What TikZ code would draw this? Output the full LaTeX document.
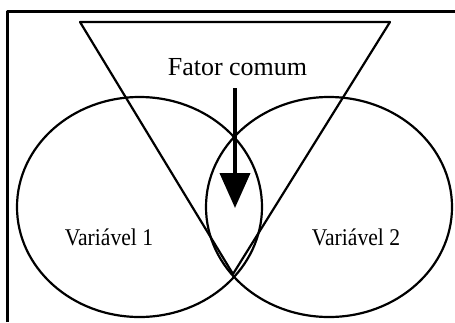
\documentclass[tikz,border=0pt]{standalone}
\usepackage{fontspec}
\setmainfont{Liberation Serif}
\newfontfamily\narrowserif[FakeStretch=0.9]{Liberation Serif}
\usetikzlibrary{arrows.meta}

\tikzset{
  outline/.style={line width=2.2pt},
  label/.style={inner sep=0pt, anchor=base}
}

\begin{document}
\begin{tikzpicture}[x=1pt, y=-1pt, line join=round]

  \useasboundingbox (0,0) rectangle (455,322);

  % ============================================================
  % FRAME
  % ============================================================
  \draw[line width=3pt] (7.5,322) -- (7.5,11) -- (455,11);

  % ============================================================
  % SHAPES: common factor triangle and the two variables
  % ============================================================
  \draw[outline] (80,22) -- (390,22) -- (233,274) -- cycle;

  \draw[outline] (139.5,207) ellipse [x radius=122.5pt, y radius=110pt];
  \draw[outline] (329,207) ellipse [x radius=123pt, y radius=110pt];

  % ============================================================
  % LABELS
  % ============================================================
  \node[label, font=\fontsize{26}{30}\selectfont] (fator) at (237.5,75)
    {Fator comum};

  \node[label, font=\narrowserif\fontsize{24}{28}\selectfont] (var1) at (109,245)
    {Variável 1};
  \node[label, font=\narrowserif\fontsize{24}{28}\selectfont] (var2) at (356,245)
    {Variável 2};

  % Arrow down into the overlap
  \coordinate (meio) at (235,208);
  \draw[line width=4pt, shorten <=13pt, -{Triangle[width=30pt,length=35pt]}]
    (fator.south -| meio) -- (meio);

\end{tikzpicture}
\end{document}
